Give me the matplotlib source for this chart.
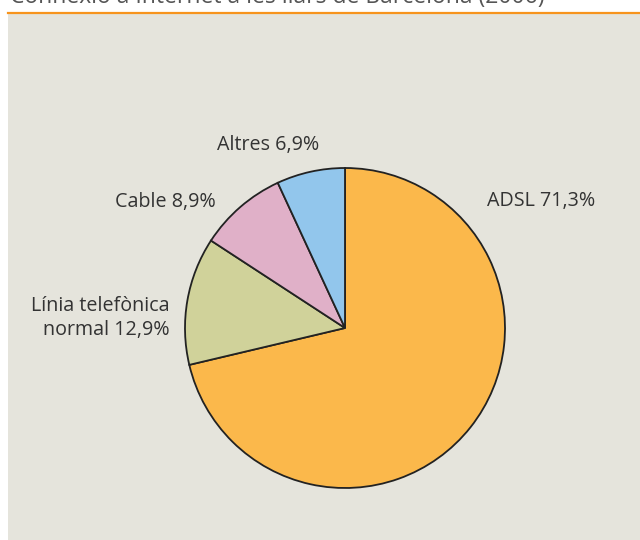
import matplotlib.pyplot as plt
from matplotlib.patches import Rectangle

plt.rcParams['font.family'] = ['Open Sans', 'DejaVu Sans']

# data
labels = ["ADSL", "Línia telefònica\nnormal", "Cable", "Altres"]
shares = [71.3, 12.9, 8.9, 6.9]
colors = ["#FBB84B", "#D0D29A", "#E0B0C8", "#92C6EC"]
title = "Connexió a Internet a les llars de Barcelona (2006)"

W, H = 640, 540
fig = plt.figure(figsize=(W / 100, H / 100), dpi=100)
fig.patch.set_facecolor("white")
ax = fig.add_axes([0, 0, 1, 1])

# background panel and orange rule
ax.add_patch(Rectangle((8, 0), W - 8, H - 13, facecolor="#E5E4DC", edgecolor="none", zorder=0))
ax.plot([8, W], [H - 13, H - 13], color="#F7941D", lw=1.6, zorder=1)
# the title is cut off at the top in the original, too
ax.text(10, H - 3, title, fontsize=16.5, color="#555555", va="baseline", ha="left")

ax.pie(shares, colors=colors, startangle=90, counterclock=False,
       center=(345, H - 328), radius=160, frame=True,
       wedgeprops=dict(edgecolor="#222222", linewidth=1.3))
ax.set_xlim(0, W)
ax.set_ylim(0, H)
ax.axis("off")

txt = dict(fontsize=14.2, color="#333333")
lbl = [f"{l} {str(v).replace('.', ',')}%" for l, v in zip(labels, shares)]
ax.text(487, H - 201, lbl[0], ha="left", va="center", **txt)
ax.text(170, H - 318, lbl[1], ha="right", va="center", linespacing=1.3, **txt)
ax.text(216, H - 202, lbl[2], ha="right", va="center", **txt)
ax.text(268, H - 145, lbl[3], ha="center", va="center", **txt)

fig.savefig("out.png", dpi=100)
